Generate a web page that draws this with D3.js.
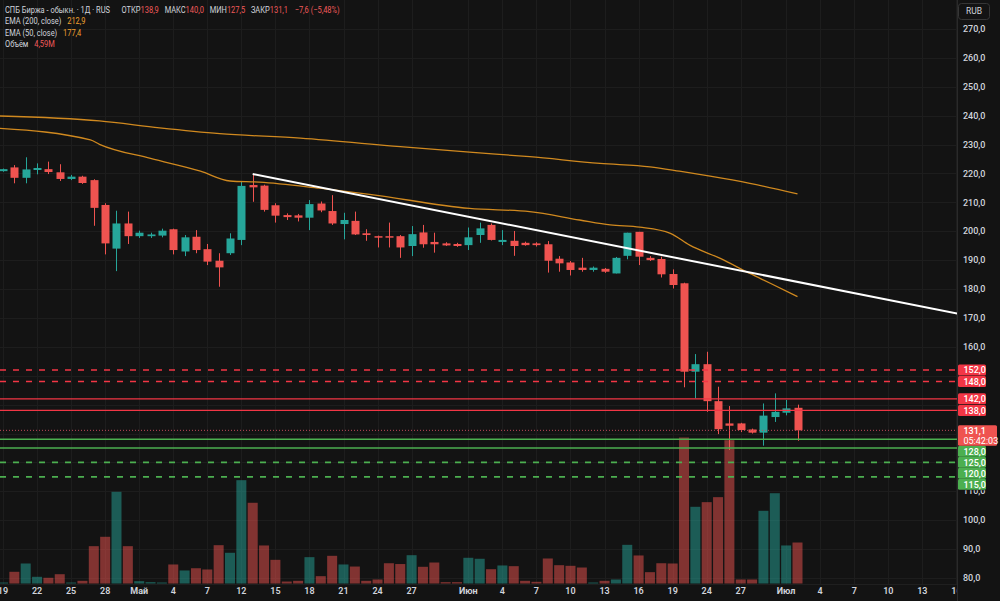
<!DOCTYPE html>
<html><head><meta charset="utf-8">
<script src="https://cdn.jsdelivr.net/npm/d3@7"></script>
<style>html,body{margin:0;padding:0;background:#131313;overflow:hidden}text{font-family:Roboto,"Noto Sans",sans-serif}</style>
</head><body><svg id="c" width="1000" height="601"></svg>
<script>
// ---------- DATA ----------
const openP = [220.8,222.1,218.5,221.2,221.5,220.4,218.1,218.9,217.7,209.1,
  194.0,202.7,198.3,198.3,198.5,200.7,193.0,198.1,193.8,189.8,
  192.4,197.0,216.0,215.8,209.0,205.6,205.5,204.7,209.6,207.0,
  202.5,203.6,199.3,198.3,198.3,198.3,194.9,199.6,196.3,195.8,
  195.6,195.2,198.7,202.2,196.3,196.7,196.0,195.8,195.5,190.5,
  189.2,187.4,186.6,187.0,185.4,191.5,199.8,190.8,190.4,185.2,
  182.0,151.4,154.0,141.2,133.5,133.5,131.4,130.3,135.7,137.2,138.9];
const highP = [221.7,222.9,225.6,223.5,224.1,223.2,219.5,219.2,218.0,209.7,
  207.1,206.8,200.2,199.5,200.9,200.9,198.7,200.4,195.6,192.4,
  199.3,217.2,219.7,216.1,209.7,206.2,206.0,210.8,210.3,212.5,
  206.4,206.8,200.7,198.5,203.0,198.7,201.8,202.2,199.5,196.2,
  196.0,201.3,203.0,202.7,200.4,200.1,196.4,196.2,196.6,191.4,
  189.7,190.8,187.8,187.3,191.1,199.5,199.8,191.4,191.2,186.8,
  182.2,157.5,158.3,146.2,139.5,133.7,131.7,140.4,143.9,141.6,140.0];
const lowP = [220.6,216.6,216.6,219.7,219.8,217.4,217.7,216.4,201.9,192.0,
  186.2,195.6,197.7,197.7,197.9,192.0,191.4,192.4,188.3,180.8,
  191.8,195.2,210.2,206.8,203.0,203.9,203.4,200.4,206.6,202.2,
  197.2,198.7,196.7,194.4,194.4,190.8,191.4,194.3,192.6,194.9,
  194.6,193.5,196.0,196.8,195.2,191.5,195.0,194.7,185.7,186.0,
  184.7,186.0,186.0,185.6,185.4,190.3,188.3,189.7,184.0,180.2,
  146.0,142.2,137.5,129.8,124.3,130.5,130.0,125.8,134.0,136.3,127.5];
const closeP = [221.5,218.5,221.4,221.9,220.5,218.1,218.9,216.7,208.1,195.8,
  202.7,198.3,199.5,198.9,200.2,193.5,197.9,193.5,189.5,187.5,
  197.5,215.7,215.2,207.4,205.4,204.9,204.7,209.4,207.2,202.7,
  203.9,198.9,198.7,197.8,197.8,194.4,199.0,195.5,195.5,195.1,
  194.9,197.9,201.0,197.0,197.0,194.9,195.2,195.2,189.8,188.9,
  186.6,186.6,187.4,186.0,190.8,199.5,191.2,190.0,185.1,181.4,
  151.4,154.0,141.2,131.5,132.7,131.2,130.3,136.2,137.5,138.7,131.1];
// volume, millions
const volume = [0.11,1.31,2.24,0.75,0.64,1.04,0.11,0.30,4.18,5.23,
  10.27,4.18,0.26,0.15,0.11,2.13,1.46,1.71,1.57,4.29,
  3.44,11.57,9.04,4.26,2.65,0.22,0.30,2.95,0.82,3.10,
  2.13,1.90,0.30,0.45,2.27,2.18,3.17,1.87,2.35,0.15,
  0.15,2.88,2.77,1.60,2.02,1.94,0.30,0.19,2.80,2.05,
  1.98,1.79,0.11,0.30,0.45,4.33,3.14,1.27,2.27,2.24,
  16.35,8.59,9.11,9.67,16.05,0.45,0.45,8.14,10.11,4.26,4.59];
// EMA lines read at bar indices
const ema200Idx = [-0.3,8.5,13.8,19.1,26.2,35,41.1,46.4,52.6,57,59.6,62.3,65.8,70];
const ema200Val = [239.9,238.2,235.8,233.8,232.2,229.3,227.4,225.8,223.5,222.3,220.8,219.1,216.6,212.9];
const ema50Idx = [-0.3,7.7,8.5,13,17.4,20,22.6,27.9,32.3,41.1,46.4,50.8,53.5,56.1,58.8,60.5,63.2,65.8,67.6,70];
const ema50Val = [235.6,231.6,230.1,225.2,220.8,217.4,217.0,214.9,212.8,207.9,206.8,203.9,202.2,201.4,199.3,195.2,190.6,185.4,182.0,177.4];
// trend line (bar index, price)
const trendIdx = [22, 84.5];
const trendVal = [219.8, 171.2];
// horizontal levels
const resistLevels = [152, 148, 142, 138];
const supportLevels = [128, 125, 120, 115];
// axes
const priceTicks = [80,90,100,110,120,130,140,150,160,170,180,190,200,210,220,230,240,250,260,270];
const tickIdx = [0,3,6,9,12,15,18,21,24,27,30,33,36,41,44,47,50,53,56,59,62,65,69,72,75,78,81,84];
const tickLabels = ["19","22","25","28","Май","4","7","12","15","18","21","24","27","Июн","4","7","10","13","16","19","24","27","Июл","4","7","10","13","16"];
const countdown = "05:42:03";

// ---------- DRAW ----------
const W = 1000, H = 601, plotR = 957, plotB = 584;
const UP = "#26a69a", DOWN = "#ef5350";
const fmt = v => d3.format(".1f")(v).replace(".", ",").replace("-", "−");
const svg = d3.select("#c");
svg.append("rect").attr("width", W).attr("height", H).attr("fill", "#131313");
const defs = svg.append("defs");
defs.append("clipPath").attr("id", "clip").append("rect").attr("x", 0).attr("y", 0).attr("width", plotR).attr("height", plotB);
defs.append("clipPath").attr("id", "clipx").append("rect").attr("x", 0).attr("y", plotB).attr("width", plotR).attr("height", H - plotB);

const x = d3.scaleLinear().domain([0, 84]).range([3, 956.4]);
const y = d3.scaleLinear().domain([80, 270]).range([578, 29]);
const yv = d3.scaleLinear().domain([0, 18]).range([583.5, 583.5 - 18 * 8.93]);

const plot = svg.append("g").attr("clip-path", "url(#clip)");
// grid
plot.append("g").selectAll("line").data(priceTicks).join("line")
  .attr("x1", 0).attr("x2", plotR).attr("y1", d => Math.round(y(d)) + 0.5).attr("y2", d => Math.round(y(d)) + 0.5)
  .attr("stroke", "#1d1d1d").attr("stroke-width", 1);
plot.append("g").selectAll("line").data(tickIdx).join("line")
  .attr("y1", 0).attr("y2", plotB).attr("x1", d => Math.round(x(d)) + 0.5).attr("x2", d => Math.round(x(d)) + 0.5)
  .attr("stroke", "#1d1d1d").attr("stroke-width", 1);

const idx = d3.range(closeP.length);
const isUp = i => closeP[i] >= openP[i];
// volume
plot.append("g").selectAll("rect").data(idx).join("rect")
  .attr("x", i => x(i) - 5).attr("width", 10)
  .attr("y", i => yv(volume[i])).attr("height", i => yv(0) - yv(volume[i]))
  .attr("fill", i => isUp(i) ? UP : DOWN).attr("fill-opacity", 0.5);

// candles
const cg = plot.append("g");
cg.selectAll("line").data(idx).join("line")
  .attr("x1", i => Math.round(x(i)) + 0.5).attr("x2", i => Math.round(x(i)) + 0.5)
  .attr("y1", i => y(highP[i])).attr("y2", i => y(lowP[i]))
  .attr("stroke", i => isUp(i) ? UP : DOWN).attr("stroke-width", 1);
cg.selectAll("rect").data(idx).join("rect")
  .attr("x", i => Math.round(x(i)) - 3.5).attr("width", 8)
  .attr("y", i => y(Math.max(openP[i], closeP[i])))
  .attr("height", i => Math.max(1.5, Math.abs(y(openP[i]) - y(closeP[i]))))
  .attr("fill", i => isUp(i) ? UP : DOWN);

// EMA lines
const lineGen = d3.line().x(d => x(d[0])).y(d => y(d[1])).curve(d3.curveMonotoneX);
plot.append("path").attr("d", lineGen(ema200Idx.map((v, k) => [v, ema200Val[k]])))
  .attr("fill", "none").attr("stroke", "#d0891f").attr("stroke-width", 1.3);
plot.append("path").attr("d", lineGen(ema50Idx.map((v, k) => [v, ema50Val[k]])))
  .attr("fill", "none").attr("stroke", "#d0891f").attr("stroke-width", 1.3);

// current price dotted line
const last = closeP.length - 1;
plot.append("line").attr("x1", 0).attr("x2", plotR).attr("y1", y(closeP[last])).attr("y2", y(closeP[last]))
  .attr("stroke", "#c0485a").attr("stroke-width", 1).attr("stroke-dasharray", "1,2");

// levels
const RED = "#f23645", GREEN = "#4caf50";
const lvlG = plot.append("g");
resistLevels.forEach((v, k) => {
  lvlG.append("line").attr("x1", 0).attr("x2", plotR).attr("y1", y(v)).attr("y2", y(v))
    .attr("stroke", RED).attr("stroke-width", 1.4).attr("stroke-dasharray", k < 2 ? "6,7" : null);
});
supportLevels.forEach((v, k) => {
  lvlG.append("line").attr("x1", 0).attr("x2", plotR).attr("y1", y(v)).attr("y2", y(v))
    .attr("stroke", GREEN).attr("stroke-width", 1.6).attr("stroke-dasharray", k < 2 ? null : "6,7");
});

// trend line
plot.append("line").attr("x1", x(trendIdx[0])).attr("y1", y(trendVal[0]))
  .attr("x2", x(trendIdx[1])).attr("y2", y(trendVal[1]))
  .attr("stroke", "#ffffff").attr("stroke-width", 2);

// separators
svg.append("line").attr("x1", plotR + 0.5).attr("x2", plotR + 0.5).attr("y1", 0).attr("y2", H).attr("stroke", "#2a2a2a");
svg.append("line").attr("x1", 0).attr("x2", plotR).attr("y1", plotB + 0.5).attr("y2", plotB + 0.5).attr("stroke", "#1f1f1f");

// axis price labels (level boxes) with overlap push
const lblH = 11;
const curY = y(closeP[last]);
const curTop = curY - 5, curBot = curY + 15.5;
const boxes = [];
let prevBottom = -1e9;
resistLevels.slice().sort((a, b) => b - a).forEach(v => {
  const yc = Math.max(y(v), prevBottom + lblH / 2);
  boxes.push({ v, yc, top: yc - lblH / 2, bot: yc + lblH / 2, fill: RED });
  prevBottom = yc + lblH / 2;
});
prevBottom = curBot;
supportLevels.slice().sort((a, b) => b - a).forEach(v => {
  const yc = Math.max(y(v), prevBottom + lblH / 2);
  boxes.push({ v, yc, top: yc - lblH / 2, bot: yc + lblH / 2, fill: GREEN });
  prevBottom = yc + lblH / 2;
});
const covered = [{ top: curTop, bot: curBot }].concat(boxes);

// price axis tick labels – those hidden behind the level boxes are skipped, partially hidden ones are clipped
const visTicks = priceTicks.filter(d => !covered.some(b => y(d) > b.top - 1 && y(d) < b.bot + 1));
const lowestBox = d3.max(boxes, b => b.bot);
defs.append("clipPath").attr("id", "clipy").append("rect").attr("x", 957).attr("y", lowestBox + 0.5).attr("width", 43).attr("height", H);
svg.append("g").selectAll("text").data(visTicks).join("text")
  .attr("clip-path", d => (y(d) - 4 < lowestBox && y(d) > lowestBox) ? "url(#clipy)" : null)
  .attr("x", 963).attr("y", d => y(d)).attr("dy", "0.35em")
  .attr("font-size", 9).attr("font-weight", 500).attr("fill", "#d1d4dc").text(d => fmt(d));

const ag = svg.append("g");
boxes.forEach(b => {
  ag.append("rect").attr("x", 958).attr("y", b.top).attr("width", 28).attr("height", lblH).attr("rx", 1.5).attr("fill", b.fill);
  ag.append("text").attr("x", 963.5).attr("y", b.yc).attr("dy", "0.36em").attr("font-size", 9).attr("font-weight", 500)
    .attr("fill", "#ffffff").text(fmt(b.v));
});
ag.append("rect").attr("x", 958).attr("y", curTop).attr("width", 39).attr("height", curBot - curTop).attr("rx", 1.5).attr("fill", DOWN);
ag.append("text").attr("x", 963.5).attr("y", curY + 0.5).attr("font-size", 9).attr("font-weight", 500).attr("fill", "#fff")
  .call(t => {
    t.append("tspan").attr("x", 963.5).attr("dy", "0.36em").text(fmt(closeP[last]));
    t.append("tspan").attr("x", 963.5).attr("dy", "10").attr("font-weight", 400).text(countdown);
  });

// x axis labels
svg.append("g").attr("clip-path", "url(#clipx)").selectAll("text").data(tickIdx).join("text")
  .attr("x", d => x(d)).attr("y", 591).attr("dy", "0.35em").attr("text-anchor", "middle")
  .attr("font-size", 9).attr("font-weight", (d, k) => isNaN(+tickLabels[k]) ? 700 : 600)
  .attr("fill", "#d1d4dc").text((d, k) => tickLabels[k]);

// RUB box
svg.append("rect").attr("x", 958.5).attr("y", 3.5).attr("width", 31).attr("height", 16).attr("rx", 3)
  .attr("fill", "#131313").attr("stroke", "#363636");
svg.append("text").attr("x", 974).attr("y", 11.5).attr("dy", "0.35em").attr("text-anchor", "middle")
  .attr("font-size", 8.5).attr("fill", "#d1d4dc").text("RUB");

// legend – one text element per line, naturally flowing, horizontally condensed
const LG = "#d1d4dc", LR = "#f05a5a", LO = "#f0a030";
const chg = closeP[last] - closeP[last - 1];
const pct = chg / closeP[last - 1] * 100;
const sx = 0.83;
const leg = svg.append("g").attr("font-size", 9).attr("transform", `scale(${sx},1)`);
function legLine(yy, parts) {
  const t = leg.append("text").attr("x", 5 / sx).attr("y", yy).attr("dy", "0.35em");
  parts.forEach(p => t.append("tspan").attr("dx", p[1]).attr("fill", p[2]).text(p[0]));
}
legLine(9.5, [["СПБ Биржа - обыкн. · 1Д · RUS", 0, LG], ["ОТКР", 14, LG], [fmt(openP[last]), 0, LR],
  ["МАКС", 7, LG], [fmt(highP[last]), 0, LR], ["МИН", 7, LG], [fmt(lowP[last]), 0, LR],
  ["ЗАКР", 7, LG], [fmt(closeP[last]), 0, LR],
  [fmt(chg) + " (" + d3.format(".2f")(pct).replace(".", ",").replace("-", "−") + "%)", 8, LR]]);
legLine(21, [["EMA (200, close)", 0, LG], [fmt(ema200Val[ema200Val.length - 1]), 7, LO]]);
legLine(32.5, [["EMA (50, close)", 0, LG], [fmt(ema50Val[ema50Val.length - 1]), 7, LO]]);
legLine(43.5, [["Объём", 0, LG], [d3.format(".2f")(volume[last]).replace(".", ",") + "M", 7, LR]]);
</script></body></html>
